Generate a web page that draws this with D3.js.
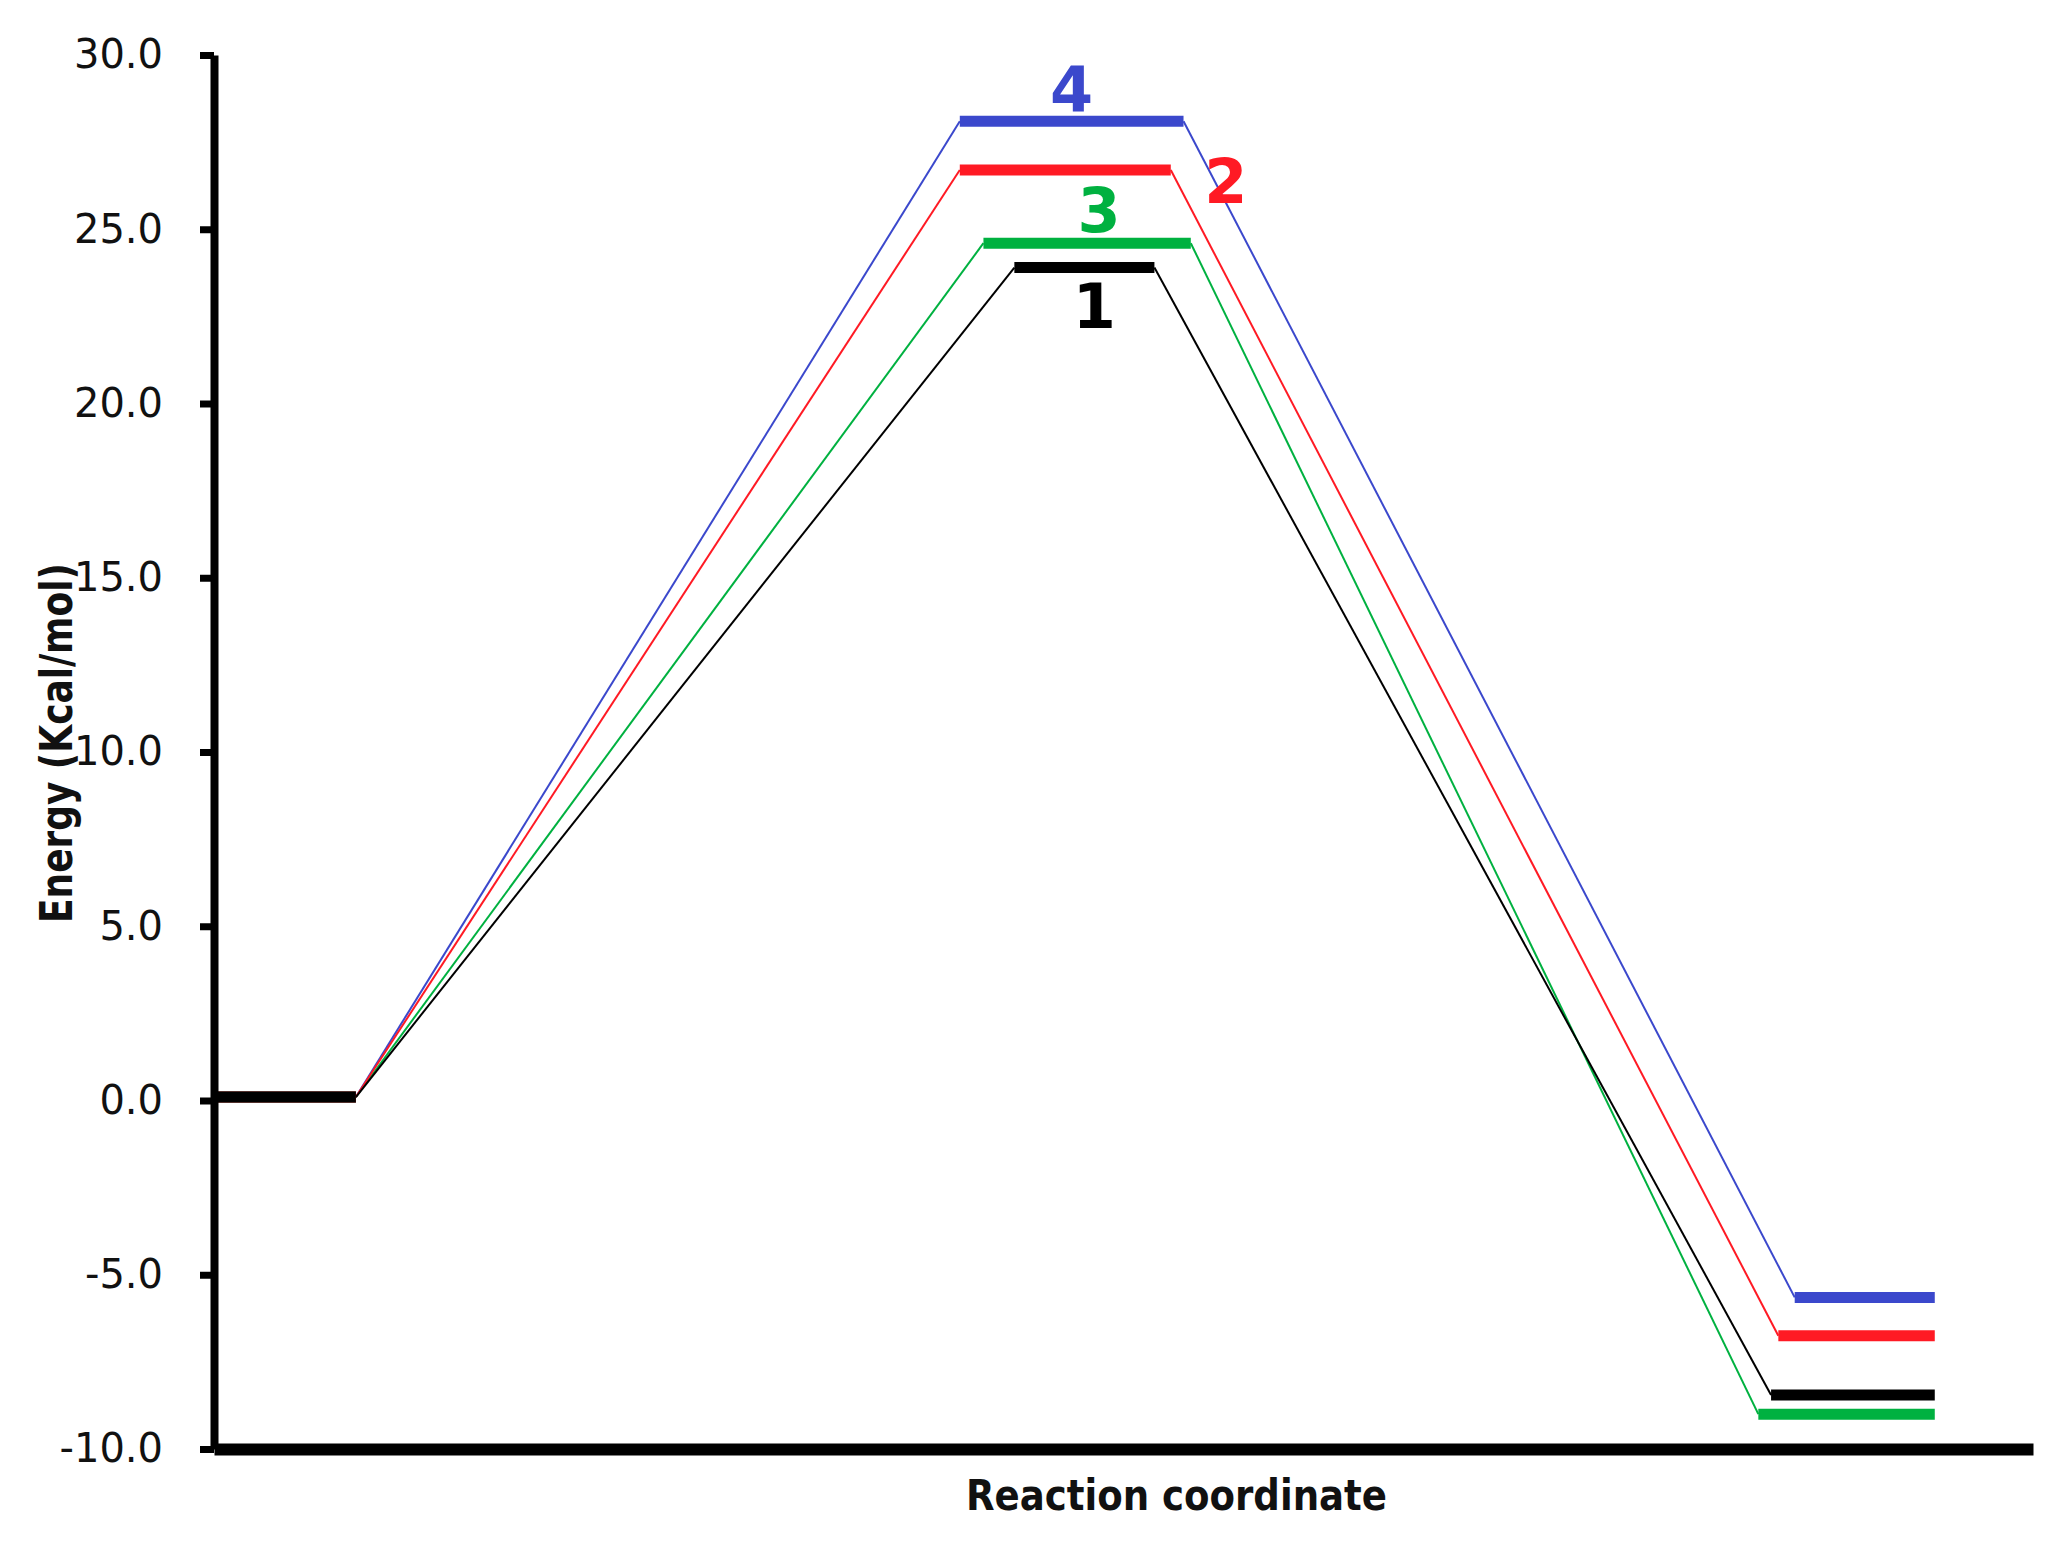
<!DOCTYPE html>
<html>
<head>
<meta charset="utf-8">
<script src="https://cdn.jsdelivr.net/npm/d3@7"></script>
<style>
  html, body { margin: 0; padding: 0; background: #fff; }
  svg { display: block; }
</style>
</head>
<body>
<script>
// ---------- data ----------
const seriesNames   = ["1", "2", "3", "4"];
const seriesColors  = ["#000000", "#ff1a24", "#00b140", "#3b48cc"];
// energies (kcal/mol)
const reactantEnergy = [0.1, 0.1, 0.1, 0.1];
const tsEnergy       = [23.9, 26.7, 24.6, 28.1];
const productEnergy  = [-8.45, -6.75, -9.0, -5.65];
// reaction-coordinate extents of each level (arbitrary units 0..10)
const reactantStart = [0, 0, 0, 0];
const reactantEnd   = [0.78, 0.78, 0.78, 0.78];
const tsStart       = [4.40, 4.10, 4.23, 4.10];
const tsEnd         = [5.17, 5.26, 5.37, 5.33];
const productStart  = [8.56, 8.60, 8.49, 8.69];
const productEnd    = [9.46, 9.46, 9.46, 9.46];
// axis
const yTicks      = [-10, -5, 0, 5, 10, 15, 20, 25, 30];
const yTickLabels = ["-10.0", "-5.0", "0.0", "5.0", "10.0", "15.0", "20.0", "25.0", "30.0"];
const yTitle = "Energy (Kcal/mol)";
const xTitle = "Reaction coordinate";

// ---------- layout ----------
const W = 2056, H = 1543;
const plotLeft = 214, plotRight = 2033, plotTop = 55, plotBottom = 1449;

const svg = d3.select("body").append("svg")
  .attr("width", W).attr("height", H)
  .attr("viewBox", `0 0 ${W} ${H}`);
svg.append("rect").attr("width", W).attr("height", H).attr("fill", "#fff");

const x = d3.scaleLinear().domain([0, 10]).range([plotLeft, plotRight]);
const y = d3.scaleLinear().domain([-10, 30]).range([plotBottom, plotTop]);

// ---------- series ----------
const order = [3, 2, 1, 0]; // draw black last (on top)
const gLines = svg.append("g");

// connectors first
order.forEach(i => {
  const pts = [
    [reactantEnd[i], reactantEnergy[i]],
    [tsStart[i], tsEnergy[i]]
  ];
  const pts2 = [
    [tsEnd[i], tsEnergy[i]],
    [productStart[i], productEnergy[i]]
  ];
  const line = d3.line().x(d => x(d[0])).y(d => y(d[1]));
  [pts, pts2].forEach(p => {
    gLines.append("path")
      .attr("d", line(p))
      .attr("fill", "none")
      .attr("stroke", seriesColors[i])
      .attr("stroke-width", 2);
  });
});

// levels
order.forEach(i => {
  const levels = [
    [reactantStart[i], reactantEnd[i], reactantEnergy[i]],
    [tsStart[i], tsEnd[i], tsEnergy[i]],
    [productStart[i], productEnd[i], productEnergy[i]]
  ];
  levels.forEach(l => {
    gLines.append("line")
      .attr("x1", x(l[0])).attr("x2", x(l[1]))
      .attr("y1", y(l[2])).attr("y2", y(l[2]))
      .attr("stroke", seriesColors[i])
      .attr("stroke-width", 11)
      .attr("stroke-linecap", "butt");
  });
});

// series labels near the TS levels (pixel offsets are styling)
const labelAnchor = ["mid", "end", "mid", "mid"];
const labelDx = [10, 55, 12, 0];
const labelDy = [60, 33, -11, -10];
seriesNames.forEach((name, i) => {
  const cx = labelAnchor[i] === "end"
    ? x(tsEnd[i]) + labelDx[i]
    : (x(tsStart[i]) + x(tsEnd[i])) / 2 + labelDx[i];
  svg.append("text")
    .attr("x", cx)
    .attr("y", y(tsEnergy[i]) + labelDy[i])
    .attr("text-anchor", "middle")
    .attr("font-family", "'DejaVu Sans', Verdana, sans-serif")
    .attr("font-weight", "bold")
    .attr("font-size", 62)
    .attr("fill", seriesColors[i])
    .text(name);
});

// ---------- axes ----------
const yAxis = d3.axisLeft(y)
  .tickValues(yTicks)
  .tickFormat((d, i) => yTickLabels[i])
  .tickSize(14)
  .tickSizeOuter(0)
  .tickPadding(37);
const gy = svg.append("g").attr("transform", `translate(${plotLeft},0)`).call(yAxis);
gy.select(".domain").attr("stroke", "#000").attr("stroke-width", 8);
gy.selectAll(".tick line").attr("stroke", "#000").attr("stroke-width", 7);
gy.selectAll(".tick text")
  .attr("fill", "#111")
  .attr("font-family", "'DejaVu Sans', Verdana, sans-serif")
  .attr("font-size", 40);

const xAxis = d3.axisBottom(x).tickValues([]).tickSizeOuter(0);
const gx = svg.append("g").attr("transform", `translate(0,${plotBottom})`).call(xAxis);
gx.select(".domain").attr("stroke", "#000").attr("stroke-width", 12);

// titles
svg.append("text")
  .attr("x", (plotLeft + plotRight) / 2 + 53)
  .attr("y", 1510)
  .attr("text-anchor", "middle")
  .attr("font-family", "'DejaVu Sans', Verdana, sans-serif")
  .attr("font-weight", "bold")
  .attr("font-size", 42)
  .attr("textLength", 421)
  .attr("lengthAdjust", "spacingAndGlyphs")
  .attr("fill", "#111")
  .text(xTitle);

svg.append("text")
  .attr("transform", `translate(72,743) rotate(-90)`)
  .attr("text-anchor", "middle")
  .attr("font-family", "'DejaVu Sans', Verdana, sans-serif")
  .attr("font-weight", "bold")
  .attr("font-size", 44)
  .attr("textLength", 360)
  .attr("lengthAdjust", "spacingAndGlyphs")
  .attr("fill", "#111")
  .text(yTitle);
</script>
</body>
</html>
